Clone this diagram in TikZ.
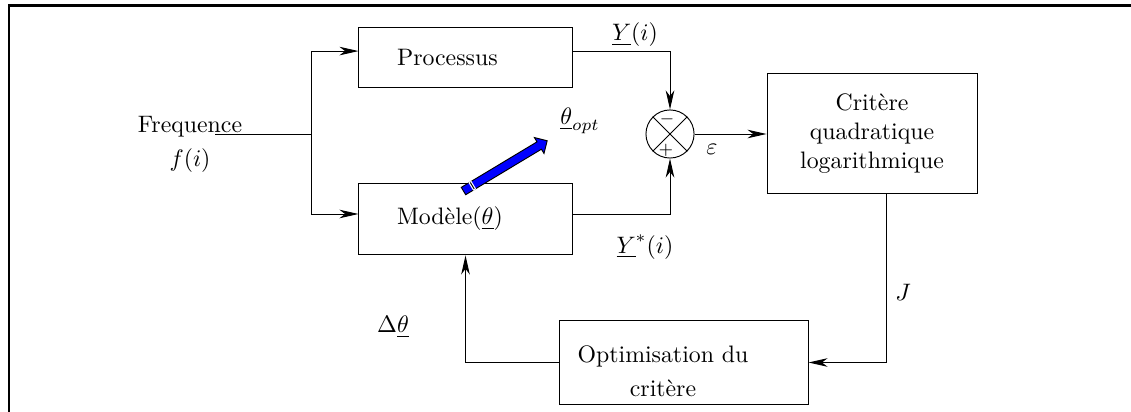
\documentclass[tikz,border=0pt]{standalone}
\usepackage{amsmath}
\usetikzlibrary{positioning,arrows.meta,shapes.arrows}
\tikzset{
  blk/.style={rectangle, draw, inner sep=0pt},
  txtbox/.style={blk, align=left, inner xsep=16pt},
  fwd/.style={-{Stealth[length=8pt,width=3.6pt,inset=2.4pt]}},
  sumnode/.style={circle, draw, minimum size=20.2pt, inner sep=0pt},
  optarrow/.style={single arrow, draw=black, fill=blue, inner xsep=0pt, inner ysep=1.6pt,
                   single arrow head extend=2.1pt, minimum height=41pt},
  frame/.style={line width=1pt},
}
\begin{document}
\begin{tikzpicture}[x=0.42pt,y=-0.42pt]
  \useasboundingbox (0,0) rectangle (1131,412);
  \draw[frame] (8.8,412) -- (8.8,5.5) -- (1131,5.5);

  % blocks
  \node[txtbox, text width=57.5pt, minimum height=24.8pt] (proc) at (465.5,57.5) {Processus};
  \node[txtbox, text width=57.5pt, minimum height=30.2pt] (mod) at (465.5,219) {Mod\`ele($\underline{\theta}$)};
  \node[sumnode] (sum) at (670,134) {};
  \node[blk, align=center, minimum width=88.2pt, minimum height=50pt] (crit) at (872,133.5) {Crit\`ere\\quadratique\\logarithmique};
  \node[blk, minimum width=104.2pt, minimum height=34.9pt] (opt) at (684,362.5) {};
  \node[align=center] (optlab) at (663,371) {Optimisation du\\[2.3pt]crit\`ere};

  % input
  \node[align=center] (freq) at (190,144) {Frequence\\[2.3pt]$f(i)$};
  \coordinate (in) at (215,134);
  \coordinate (split) at (311,134);

  % summing junction
  \draw (sum.north west) -- (sum.south east) (sum.north east) -- (sum.south west);
  \node[font=\scriptsize] (minus) at (667,119) {$-$};
  \node[font=\scriptsize] (plus) at (666,150) {$+$};

  % connections
  \draw (in) -- (split);
  \draw[fwd] (split) |- ([yshift=2.7pt]proc.west);
  \draw[fwd] (split) |- ([yshift=2.1pt]mod.west);
  \draw[fwd] ([yshift=2.7pt]proc.east) -| (sum.north);
  \draw[fwd] ([yshift=2.1pt]mod.east) -| (sum.south);
  \draw[fwd] (sum.east) -- (sum.east -| crit.west);
  \draw[fwd] ([xshift=5.9pt]crit.south) |- (opt.east);
  \draw[fwd] (opt.west) -| (mod.south);

  % labels
  \node (ylab) at (635,35) {$\underline{Y}(i)$};
  \node (yslab) at (645,247) {$\underline{Y}^*(i)$};
  \node (eps) at (712,149) {$\varepsilon$};
  \node (jlab) at (903,292) {$J$};
  \node (dtheta) at (393,327) {$\Delta\underline{\theta}$};

  % optimal parameters
  \node[optarrow, rotate=31] (topt) at (503.5,167) {};
  \begin{scope}[shift={(topt.tail)}, rotate=31]
    \draw[white, line width=1.4pt] (4.5pt,-2pt) -- (4.5pt,2pt);
    \draw[line width=0.4pt] (4.5pt,-1.6pt) -- (4.5pt,1.6pt);
  \end{scope}
  \node (thopt) at (580,121) {$\underline{\theta}_{opt}$};
\end{tikzpicture}
\end{document}
